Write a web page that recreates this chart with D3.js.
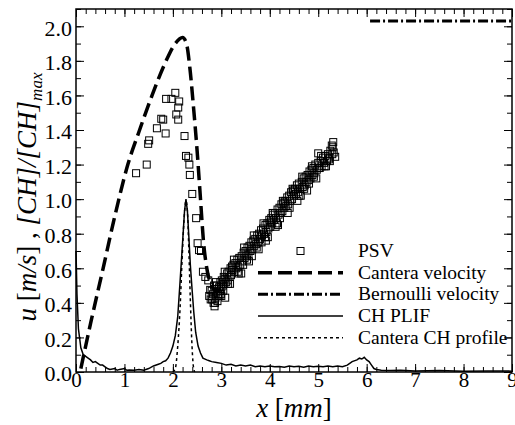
<!DOCTYPE html>
<html>
<head>
<meta charset="utf-8">
<script src="https://cdn.jsdelivr.net/npm/d3@7"></script>
<style>
  body { margin: 0; background: #fff; }
  svg { display: block; }
  svg text { font-family: "Liberation Serif", "Times New Roman", serif; }
</style>
</head>
<body>
<svg id="chart" width="515" height="425"></svg>
<script>
// ---- data ----
const xTicks = [0, 1, 2, 3, 4, 5, 6, 7, 8, 9];
const yTicks = [0, 0.2, 0.4, 0.6, 0.8, 1.0, 1.2, 1.4, 1.6, 1.8, 2.0];

// PSV points, scattered part near the velocity peak
const psvPeakX = [1.24, 1.46, 1.49, 1.51, 1.67, 1.76, 1.80, 1.85, 1.86, 1.97, 2.05, 2.07, 2.11, 2.13, 2.11, 2.24, 2.27, 2.32, 2.34, 2.35, 2.40, 2.48, 2.51, 2.54, 2.58, 2.62, 2.67, 2.73, 2.77, 2.87, 2.75, 2.78, 2.86, 2.92, 3.00, 3.08];
const psvPeakY = [1.15, 1.20, 1.32, 1.34, 1.41, 1.465, 1.46, 1.38, 1.58, 1.58, 1.615, 1.49, 1.53, 1.565, 1.46, 1.365, 1.25, 1.24, 1.20, 1.14, 1.03, 0.89, 0.745, 0.705, 0.70, 0.58, 0.55, 0.53, 0.475, 0.40, 0.44, 0.42, 0.38, 0.41, 0.44, 0.43];

// PSV points, the dense rising band after the flame
const psvBandX = [2.80, 2.81, 2.83, 2.84, 2.86, 2.88, 2.90, 2.91, 2.93, 2.95, 2.96, 2.98, 3.00, 3.01, 3.03, 3.05, 3.06, 3.08, 3.10, 3.12, 3.13, 3.15, 3.17, 3.19, 3.20, 3.23, 3.25, 3.27, 3.29, 3.31, 3.33, 3.35, 3.37, 3.39, 3.41, 3.42, 3.44, 3.46, 3.48, 3.50, 3.52, 3.54, 3.56, 3.58, 3.60, 3.62, 3.64, 3.66, 3.68, 3.70, 3.72, 3.74, 3.76, 3.78, 3.80, 3.82, 3.84, 3.86, 3.88, 3.90, 3.91, 3.93, 3.95, 3.97, 3.99, 4.01, 4.03, 4.05, 4.07, 4.09, 4.11, 4.13, 4.15, 4.16, 4.18, 4.20, 4.22, 4.24, 4.26, 4.28, 4.30, 4.32, 4.34, 4.36, 4.38, 4.40, 4.42, 4.44, 4.46, 4.48, 4.50, 4.52, 4.54, 4.56, 4.58, 4.60, 4.62, 4.64, 4.66, 4.68, 4.70, 4.72, 4.74, 4.76, 4.78, 4.80, 4.82, 4.84, 4.86, 4.88, 4.90, 4.92, 4.94, 4.97, 5.00, 5.00, 5.02, 5.05, 5.07, 5.10, 5.12, 5.15, 5.18, 5.20, 5.22, 5.25, 5.28, 5.30, 5.32, 5.35,
  2.85, 2.97, 3.04, 3.14, 3.22, 3.34, 3.45, 3.53, 3.63, 3.73, 3.83, 3.92, 4.02, 4.12, 4.21, 4.31, 4.41, 4.51, 4.61, 4.71, 4.81, 4.91, 5.03, 5.13, 5.23, 5.29,
  2.89, 2.99, 3.07, 3.18, 3.26, 3.36, 3.47, 3.57, 3.67, 3.77, 3.87, 3.96, 4.06, 4.17, 4.27, 4.37, 4.47, 4.57, 4.67, 4.77, 4.87, 4.96, 5.06, 5.16, 5.24, 5.31];
const psvBandY = [0.47, 0.42, 0.45, 0.40, 0.48, 0.43, 0.46, 0.50, 0.45, 0.49, 0.44, 0.52, 0.49, 0.53, 0.50, 0.55, 0.51, 0.54, 0.52, 0.57, 0.53, 0.58, 0.55, 0.60, 0.56, 0.59, 0.62, 0.58, 0.63, 0.60, 0.65, 0.61, 0.66, 0.62, 0.57, 0.67, 0.64, 0.69, 0.66, 0.70, 0.67, 0.72, 0.68, 0.73, 0.70, 0.75, 0.71, 0.76, 0.73, 0.77, 0.74, 0.79, 0.75, 0.80, 0.77, 0.82, 0.79, 0.83, 0.80, 0.78, 0.85, 0.81, 0.86, 0.83, 0.88, 0.84, 0.89, 0.86, 0.91, 0.88, 0.92, 0.89, 0.86, 0.94, 0.91, 0.95, 0.92, 0.97, 0.93, 0.98, 0.95, 0.99, 0.96, 1.01, 0.97, 1.02, 0.99, 1.04, 1.00, 1.05, 1.02, 1.06, 1.03, 1.08, 1.04, 1.09, 1.06, 1.02, 1.10, 1.07, 1.12, 1.08, 1.13, 1.10, 1.14, 1.11, 1.16, 1.12, 1.17, 1.14, 1.18, 1.15, 1.20, 1.17, 1.265, 1.21, 1.18, 1.22, 1.19, 1.24, 1.21, 1.25, 1.22, 1.26, 1.23, 1.28, 1.31, 1.30, 1.27, 1.245,
  0.50, 0.47, 0.47, 0.51, 0.61, 0.58, 0.62, 0.65, 0.67, 0.72, 0.75, 0.76, 0.87, 0.84, 0.89, 0.98, 0.95, 1.05, 1.02, 1.06, 1.09, 1.13, 1.18, 1.19, 1.24, 1.26,
  0.52, 0.45, 0.58, 0.51, 0.65, 0.57, 0.72, 0.64, 0.79, 0.71, 0.86, 0.78, 0.92, 0.85, 0.99, 0.92, 1.06, 0.99, 1.13, 1.05, 1.19, 1.12, 1.25, 1.19, 1.22, 1.33];

// Cantera velocity (thick dashed)
const canteraVelX = [0.10, 0.30, 0.56, 0.80, 1.07, 1.30, 1.57, 1.86, 2.05, 2.20, 2.28, 2.35, 2.42, 2.50, 2.57, 2.63, 2.70, 2.80, 2.90, 3.00];
const canteraVelY = [0.02, 0.28, 0.60, 0.90, 1.20, 1.39, 1.60, 1.80, 1.90, 1.935, 1.90, 1.76, 1.55, 1.28, 1.00, 0.76, 0.60, 0.50, 0.47, 0.48];

// Bernoulli velocity (dash-dot)
const bernoulliX = [6.07, 9.0];
const bernoulliY = [2.03, 2.03];

// CH PLIF (thin solid)
const chPlifX = [0, 0.02, 0.05, 0.1, 0.15, 0.2, 0.25, 0.3, 0.35, 0.4, 0.45, 0.5, 0.55, 0.6, 0.65, 0.7, 0.8, 0.85, 0.9, 1.0, 1.05, 1.1, 1.2, 1.3, 1.4, 1.5, 1.6, 1.7, 1.75, 1.8, 1.85, 1.9, 1.95, 2.0, 2.05, 2.1, 2.15, 2.2, 2.24, 2.27, 2.3, 2.33, 2.36, 2.39, 2.43, 2.47, 2.52, 2.57, 2.62, 2.7, 2.75, 2.8, 2.9, 3.0, 3.1, 3.2, 3.3, 3.4, 3.5, 3.6, 3.7, 3.8, 3.9, 4.0, 4.1, 4.2, 4.3, 4.4, 4.5, 4.6, 4.7, 4.8, 4.9, 5.0, 5.1, 5.2, 5.3, 5.4, 5.5, 5.6, 5.7, 5.8, 5.85, 5.9, 5.95, 6.0, 6.05, 6.1, 6.15, 6.2, 6.3, 6.5, 6.7, 7.0, 7.5, 8.0, 8.5, 9.0];
const chPlifY = [0.70, 0.45, 0.25, 0.14, 0.10, 0.09, 0.08, 0.07, 0.055, 0.06, 0.05, 0.04, 0.04, 0.03, 0.02, 0.015, 0.02, 0.01, 0.015, 0.02, 0.01, 0.012, 0.01, 0.015, 0.01, 0.02, 0.035, 0.045, 0.05, 0.06, 0.065, 0.08, 0.11, 0.15, 0.21, 0.32, 0.53, 0.75, 0.93, 1.0, 0.93, 0.78, 0.62, 0.50, 0.35, 0.23, 0.15, 0.11, 0.08, 0.07, 0.065, 0.06, 0.055, 0.05, 0.04, 0.045, 0.035, 0.04, 0.035, 0.04, 0.03, 0.035, 0.03, 0.035, 0.03, 0.032, 0.028, 0.035, 0.03, 0.033, 0.028, 0.034, 0.03, 0.033, 0.03, 0.035, 0.03, 0.034, 0.03, 0.04, 0.06, 0.07, 0.08, 0.075, 0.085, 0.07, 0.06, 0.04, 0.02, 0.015, 0.01, 0.008, 0.01, 0.006, 0.008, 0.005, 0.006, 0.005];

// Cantera CH profile (dotted)
const chProfileX = [2.00, 2.05, 2.10, 2.15, 2.19, 2.23, 2.27, 2.30, 2.33, 2.36, 2.39, 2.42, 2.45];
const chProfileY = [0.00, 0.02, 0.15, 0.38, 0.65, 0.88, 0.99, 0.93, 0.70, 0.42, 0.18, 0.04, 0.00];

const legendNames = ["PSV", "Cantera velocity", "Bernoulli velocity", "CH PLIF", "Cantera CH profile"];

function zip(xs, ys) {
  return xs.map((v, i) => ({ x: v, y: ys[i] }));
}

function drawChart() {
  const svg = d3.select("svg#chart");
  const left = 76, right = 512, top = 9, bottom = 372;

  const x = d3.scaleLinear().domain([0, 9]).range([left, right]);
  const y = d3.scaleLinear().domain([0, 2.1]).range([bottom, top]);

  // minor + major ticks, all pointing inward
  const minorX = d3.range(0, 9.001, 0.2);
  const minorY = d3.range(0, 2.101, 0.1);

  function tickAxis(axis, tr) {
    const g = svg.append("g").attr("transform", tr).call(axis);
    g.select(".domain").remove();
    g.attr("font-family", null);
    g.selectAll(".tick line").attr("stroke", "#000").attr("stroke-width", 1);
    return g;
  }

  tickAxis(d3.axisBottom(x).tickValues(minorX).tickSize(-5).tickFormat(""), "translate(0," + bottom + ")");
  tickAxis(d3.axisTop(x).tickValues(minorX).tickSize(-5).tickFormat(""), "translate(0," + top + ")");
  tickAxis(d3.axisTop(x).tickValues(xTicks).tickSize(-8).tickFormat(""), "translate(0," + top + ")");
  tickAxis(d3.axisLeft(y).tickValues(minorY).tickSize(-5).tickFormat(""), "translate(" + left + ",0)");
  tickAxis(d3.axisRight(y).tickValues(minorY).tickSize(-5).tickFormat(""), "translate(" + right + ",0)");
  tickAxis(d3.axisRight(y).tickValues(yTicks).tickSize(-8).tickFormat(""), "translate(" + right + ",0)");

  const xAxis = tickAxis(d3.axisBottom(x).tickValues(xTicks).tickSize(-8).tickPadding(0).tickFormat(d3.format("d")), "translate(0," + bottom + ")");
  xAxis.selectAll("text").attr("font-size", 21).attr("fill", "#000");

  const yAxis = tickAxis(d3.axisLeft(y).tickValues(yTicks).tickSize(-8).tickPadding(4).tickFormat(d3.format(".1f")), "translate(" + left + ",0)");
  yAxis.selectAll("text").attr("font-size", 22).attr("fill", "#000").attr("dy", "0.4em");

  const line = d3.line().x(d => x(d.x)).y(d => y(d.y));

  // Cantera CH profile (dotted)
  svg.append("path")
    .datum(zip(chProfileX, chProfileY))
    .attr("d", line.curve(d3.curveMonotoneX))
    .attr("fill", "none").attr("stroke", "#000")
    .attr("stroke-width", 1.5).attr("stroke-dasharray", "3,3");

  // CH PLIF
  svg.append("path")
    .datum(zip(chPlifX, chPlifY))
    .attr("d", line.curve(d3.curveLinear))
    .attr("fill", "none").attr("stroke", "#000").attr("stroke-width", 1.5);

  // PSV squares
  const psv = zip(psvPeakX, psvPeakY).concat(zip(psvBandX, psvBandY));
  svg.selectAll(".psv")
    .data(psv)
    .enter().append("rect")
    .attr("class", "psv")
    .attr("x", d => x(d.x) - 3.5)
    .attr("y", d => y(d.y) - 3.5)
    .attr("width", 7).attr("height", 7)
    .attr("fill", "none").attr("stroke", "#000").attr("stroke-width", 1);

  // Cantera velocity
  svg.append("path")
    .datum(zip(canteraVelX, canteraVelY))
    .attr("d", line.curve(d3.curveMonotoneX))
    .attr("fill", "none").attr("stroke", "#000")
    .attr("stroke-width", 3.5).attr("stroke-dasharray", "14,6");

  // Bernoulli velocity
  svg.append("path")
    .datum(zip(bernoulliX, bernoulliY))
    .attr("d", line.curve(d3.curveLinear))
    .attr("fill", "none").attr("stroke", "#000")
    .attr("stroke-width", 3).attr("stroke-dasharray", "10,3,2,3");

  // frame
  svg.append("rect")
    .attr("x", left).attr("y", top)
    .attr("width", right - left).attr("height", bottom - top)
    .attr("fill", "none").attr("stroke", "#000").attr("stroke-width", 1.5);

  // legend
  const lg = svg.append("g").attr("font-size", 19.5);
  const rowY = [251, 272.7, 294.3, 316, 337.7];
  const lx0 = 258, lx1 = 343;
  lg.append("rect").attr("x", (lx0 + lx1) / 2 - 3.5).attr("y", rowY[0] - 3.5)
    .attr("width", 7).attr("height", 7).attr("fill", "none").attr("stroke", "#000");
  const styles = [null, ["3.5", "14,6"], ["3", "10,3,2,3"], ["1.5", null], ["1.5", "3,3"]];
  styles.forEach((s, i) => {
    if (!s) return;
    lg.append("line").attr("x1", lx0).attr("x2", lx1).attr("y1", rowY[i]).attr("y2", rowY[i])
      .attr("stroke", "#000").attr("stroke-width", s[0]).attr("stroke-dasharray", s[1]);
  });
  legendNames.forEach((name, i) => {
    lg.append("text").attr("x", 358).attr("y", rowY[i] + 6).text(name);
  });

  // x title
  const xt = svg.append("text")
    .attr("x", (left + right) / 2).attr("y", 417)
    .attr("text-anchor", "middle").attr("font-size", 27);
  xt.append("tspan").attr("font-style", "italic").text("x");
  xt.append("tspan").text(" [");
  xt.append("tspan").attr("font-style", "italic").text("mm");
  xt.append("tspan").text("]");

  // y title
  const yt = svg.append("text")
    .attr("transform", "translate(36,197) rotate(-90)")
    .attr("text-anchor", "middle").attr("font-size", 27).attr("font-style", "italic");
  yt.append("tspan").text("u ");
  yt.append("tspan").attr("font-style", "normal").text("[");
  yt.append("tspan").text("m/s");
  yt.append("tspan").attr("font-style", "normal").text("] , ");
  yt.append("tspan").text("[CH]/[CH]");
  yt.append("tspan").attr("font-size", 17).attr("dy", 6).text("max");
}

drawChart();
</script>
</body>
</html>
